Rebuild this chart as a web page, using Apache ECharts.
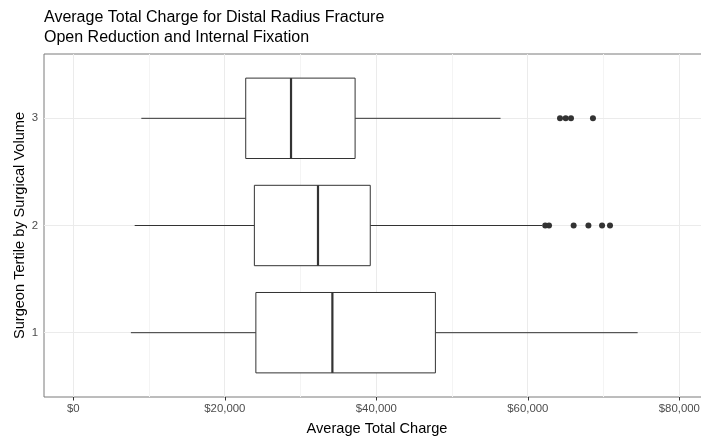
<!DOCTYPE html>
<html><head><meta charset="utf-8">
<script src="https://cdn.jsdelivr.net/npm/echarts@6/dist/echarts.min.js"></script>
<style>html,body{margin:0;padding:0;background:#fff}#c{width:701px;height:438px}</style>
</head><body><div id="c"></div>
<script>
// ---- data ----
const categories = ['1', '2', '3'];
const lowerWhisker = [7600, 8100, 8980];
const q1 = [24100, 23900, 22760];
const median = [34200, 32300, 28740];
const q3 = [47800, 39200, 37200];
const upperWhisker = [74500, 61900, 56400];
const outliersGroup2 = [62300, 62800, 66050, 68000, 69800, 70850];
const outliersGroup3 = [64250, 65000, 65700, 68600];
const xTickValues = [0, 20000, 40000, 60000, 80000];
const xMinorValues = [10000, 30000, 50000, 70000];
const yTickValues = [1, 2, 3];

const FONT = "'Liberation Sans', Arial, sans-serif";
const XMIN = -3870, XMAX = 84050, YMIN = 0.4, YMAX = 3.6;
const boxData = categories.map((c, i) => [i + 1, lowerWhisker[i], q1[i], median[i], q3[i], upperWhisker[i]]);
const outlierData = [];
outliersGroup2.forEach(v => outlierData.push([v, 2]));
outliersGroup3.forEach(v => outlierData.push([v, 3]));

const snap = p => Math.round(p - 0.5) + 0.5;
function lineSeries(values, horizontal, color, width) {
  return {
    type: 'custom', z: 1, silent: true,
    data: values.map(v => horizontal ? [0, v] : [v, 2]),
    renderItem: (params, api) => {
      const v = values[params.dataIndex];
      const p1 = horizontal ? api.coord([XMIN, v]) : api.coord([v, YMIN]);
      const p2 = horizontal ? api.coord([XMAX, v]) : api.coord([v, YMAX]);
      let shape;
      if (horizontal) { const y = snap(p1[1]); shape = {x1: p1[0], y1: y, x2: p2[0], y2: y}; }
      else { const x = snap(p1[0]); shape = {x1: x, y1: p1[1], x2: x, y2: p2[1]}; }
      return {type: 'line', shape: shape, style: {stroke: color, lineWidth: width}};
    }
  };
}

const chart = echarts.init(document.getElementById('c'), null, {renderer: 'canvas'});
const BOXW = 0.375;
chart.setOption({
  animation: false,
  backgroundColor: '#fff',
  title: {
    text: 'Average Total Charge for Distal Radius Fracture\nOpen Reduction and Internal Fixation',
    left: 44, top: 8, padding: 0,
    textStyle: {fontFamily: FONT, fontSize: 16, fontWeight: 'normal', color: '#000', lineHeight: 20}
  },
  grid: {left: 44, right: -9, top: 54, bottom: 41, containLabel: false, outerBoundsMode: 'none',
    show: true, borderColor: '#7a7a7a', borderWidth: 1, backgroundColor: 'transparent'},
  xAxis: {
    type: 'value', min: XMIN, max: XMAX,
    name: 'Average Total Charge', nameLocation: 'middle', nameGap: 24,
    nameTextStyle: {fontFamily: FONT, fontSize: 14.6, color: '#000'},
    axisLine: {show: false},
    axisTick: {show: true, length: 3.5, lineStyle: {color: '#333'}, customValues: xTickValues},
    axisLabel: {fontFamily: FONT, fontSize: 11.4, color: '#4d4d4d', margin: 6, customValues: xTickValues,
      formatter: v => '$' + v.toLocaleString('en-US')},
    splitLine: {show: false}
  },
  yAxis: {
    type: 'value', min: YMIN, max: YMAX,
    name: 'Surgeon Tertile by Surgical Volume', nameLocation: 'middle', nameGap: 17, nameRotate: 90,
    nameMoveOverlap: false,
    nameTextStyle: {fontFamily: FONT, fontSize: 14.6, color: '#000'},
    axisLine: {show: false},
    axisTick: {show: true, length: 3.5, lineStyle: {color: '#333'}, customValues: yTickValues},
    axisLabel: {fontFamily: FONT, fontSize: 11.4, color: '#4d4d4d', margin: 6, customValues: yTickValues,
      formatter: v => categories[Math.round(v) - 1]},
    splitLine: {show: false}
  },
  series: [
    lineSeries(xMinorValues, false, '#f4f4f4', 1),
    lineSeries(xTickValues, false, '#ebebeb', 1),
    lineSeries(yTickValues, true, '#ebebeb', 1),
    {
      type: 'custom', z: 2, silent: true,
      data: boxData,
      renderItem: (params, api) => {
        const y = api.value(0);
        const lw = api.coord([api.value(1), y]);
        const b1 = api.coord([api.value(2), y + BOXW]);
        const md = api.coord([api.value(3), y]);
        const b3 = api.coord([api.value(4), y - BOXW]);
        const uw = api.coord([api.value(5), y]);
        const st = {stroke: '#333', lineWidth: 1, fill: null};
        return {type: 'group', children: [
          {type: 'line', shape: {x1: lw[0], y1: lw[1], x2: b1[0], y2: lw[1]}, style: st},
          {type: 'line', shape: {x1: b3[0], y1: uw[1], x2: uw[0], y2: uw[1]}, style: st},
          {type: 'rect', shape: {x: b1[0], y: b1[1], width: b3[0] - b1[0], height: b3[1] - b1[1]},
            style: {stroke: '#333', lineWidth: 1, fill: '#fff'}},
          {type: 'line', shape: {x1: md[0], y1: b1[1], x2: md[0], y2: b3[1]}, style: {stroke: '#333', lineWidth: 2.2}}
        ]};
      }
    },
    {
      type: 'scatter', z: 3, silent: true,
      symbol: 'circle', symbolSize: 6,
      itemStyle: {color: '#333', opacity: 1},
      data: outlierData
    }
  ]
});
</script></body></html>
